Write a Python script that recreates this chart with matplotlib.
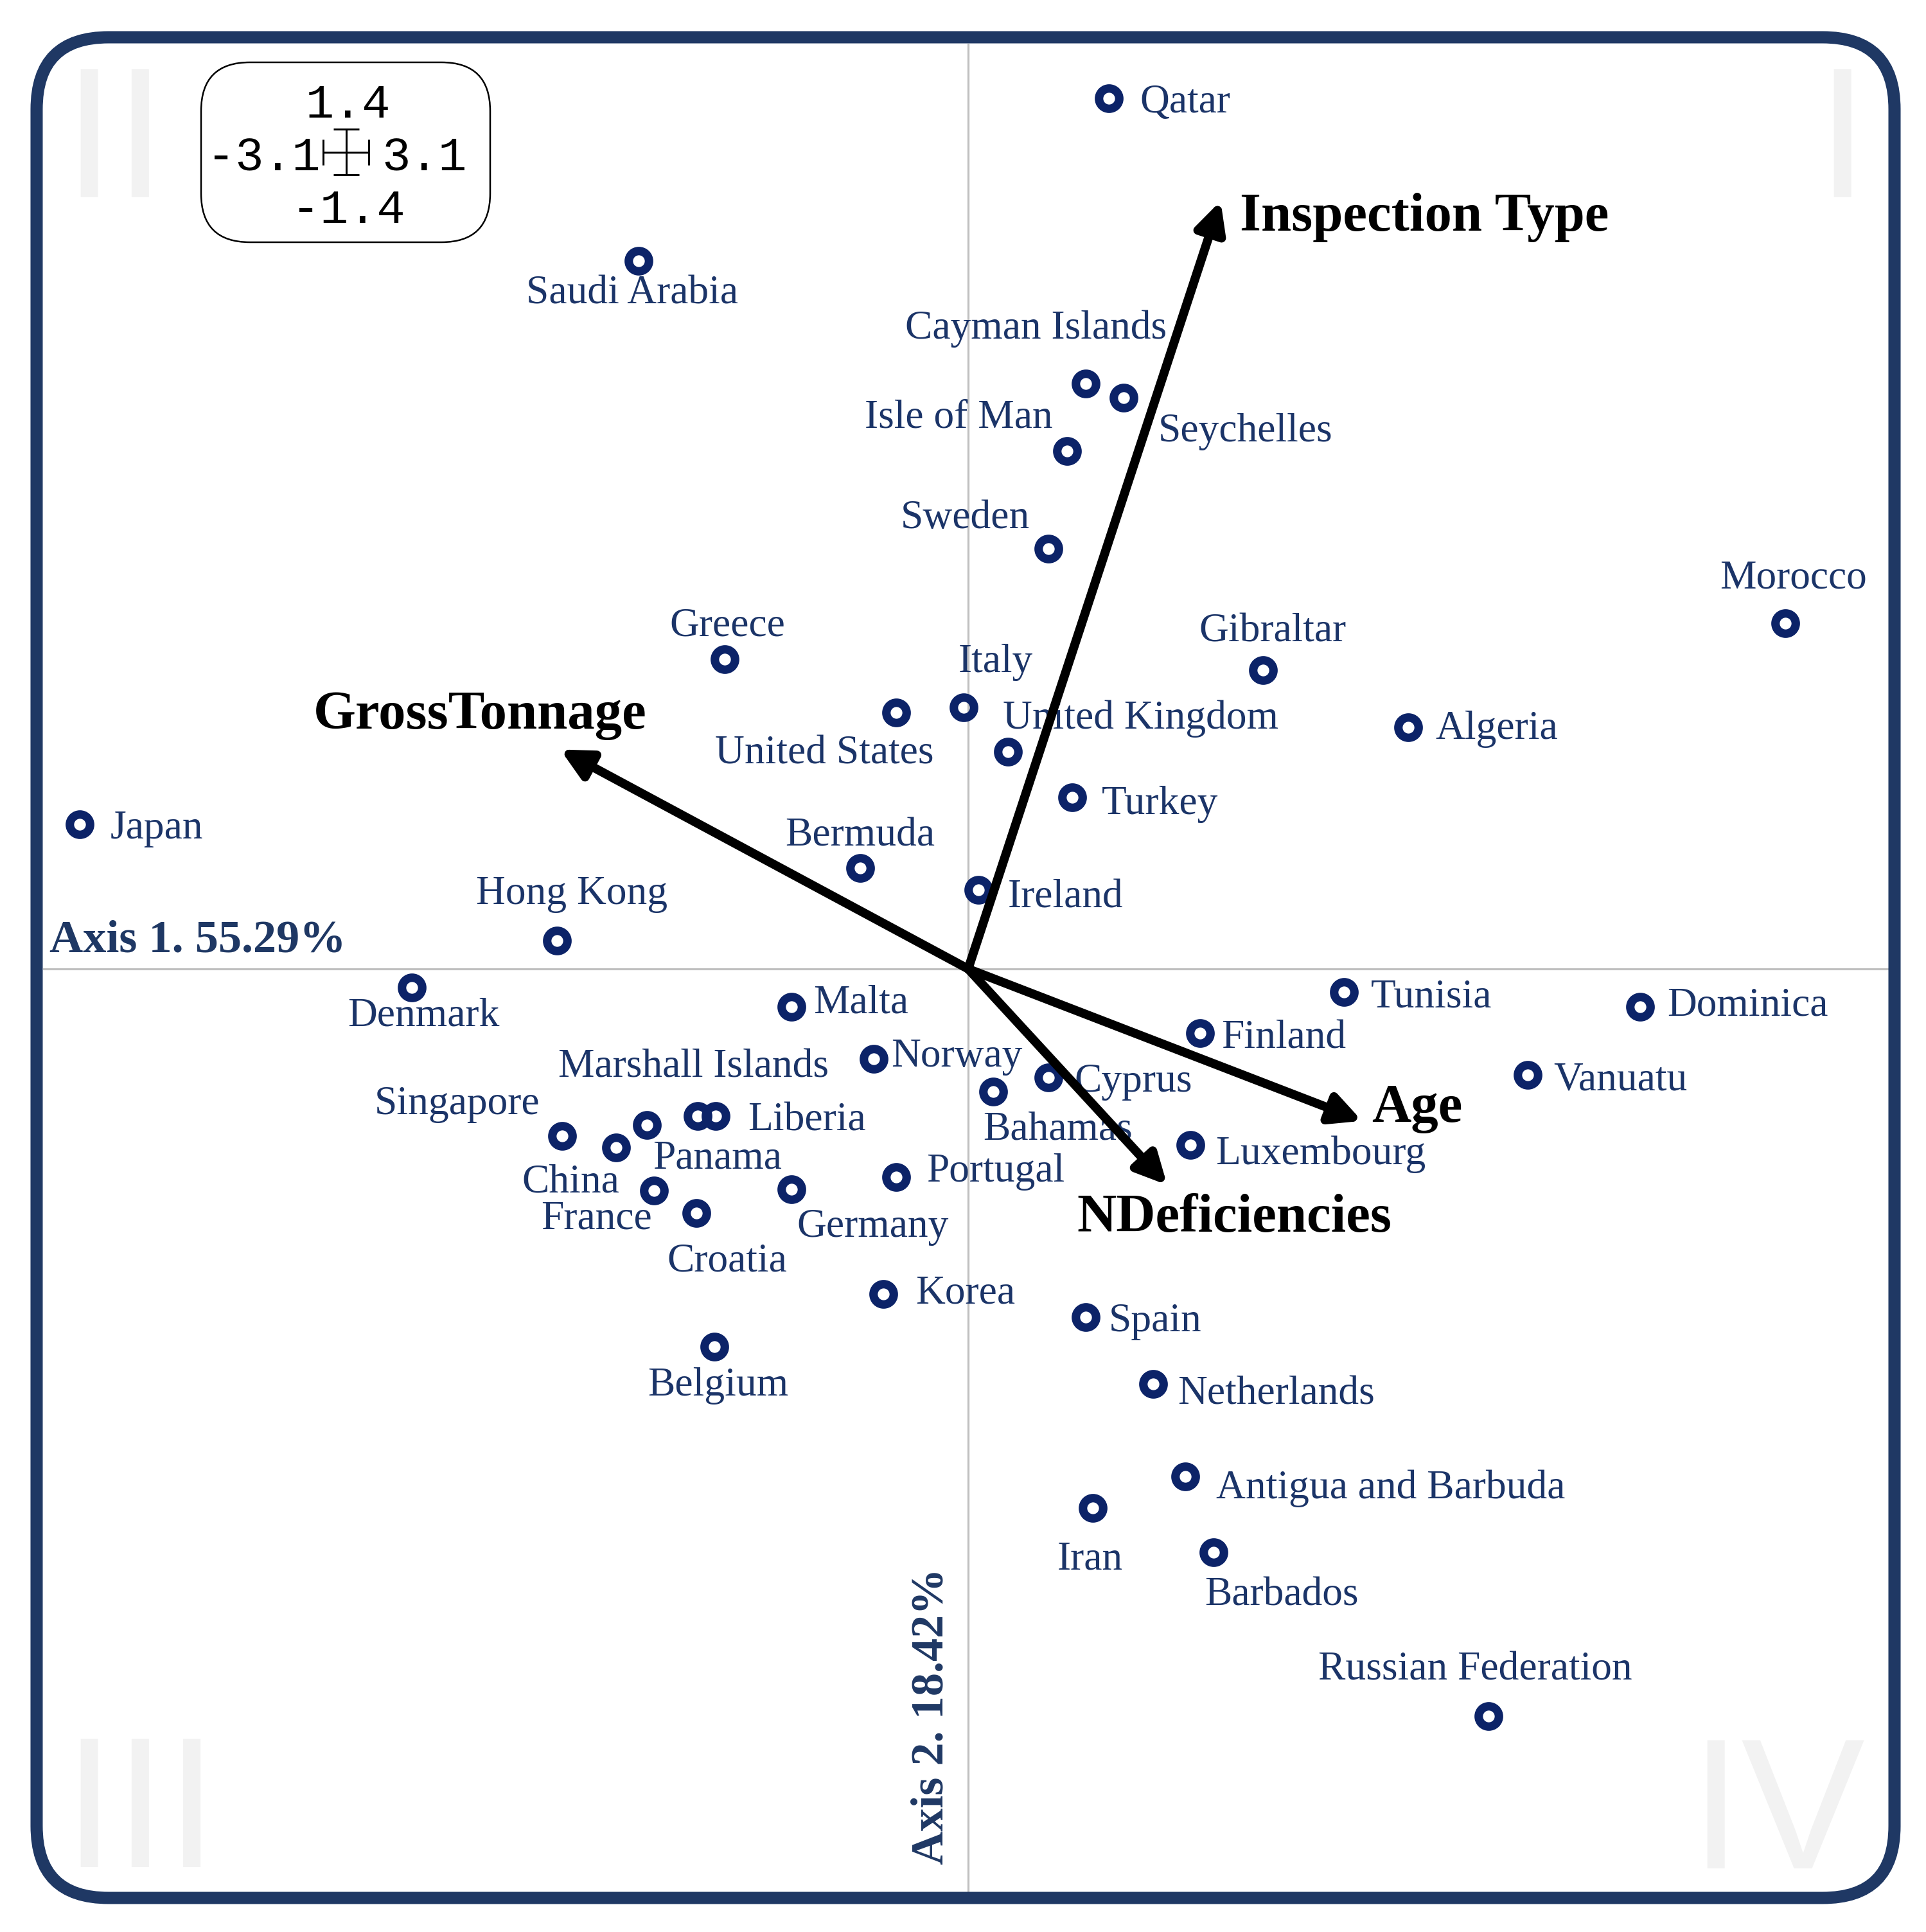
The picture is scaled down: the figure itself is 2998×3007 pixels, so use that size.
import matplotlib
matplotlib.use('Agg')
import matplotlib.pyplot as plt
from matplotlib.patches import FancyBboxPatch

# 画布尺寸（像素）
W, H, DPI = 2998, 3007, 100

# 国家坐标（第1、2主轴）
countries = ['Qatar', 'Saudi Arabia', 'Cayman Islands', 'Seychelles', 'Isle of Man',
             'Sweden', 'Morocco', 'Greece', 'Gibraltar', 'Italy', 'United States',
             'United Kingdom', 'Algeria', 'Turkey', 'Japan', 'Bermuda', 'Ireland',
             'Hong Kong', 'Denmark', 'Tunisia', 'Dominica', 'Malta', 'Finland',
             'Norway', 'Cyprus', 'Vanuatu', 'Bahamas', 'Luxembourg', 'Marshall Islands',
             'Liberia', 'Panama', 'Singapore', 'China', 'France', 'Croatia', 'Germany',
             'Portugal', 'Korea', 'Spain', 'Belgium', 'Netherlands',
             'Antigua and Barbuda', 'Iran', 'Barbados', 'Russian Federation']
axis1 = [0.472, -1.105, 0.394, 0.521, 0.332,
         0.270, 2.739, -0.816, 0.988, -0.015, -0.242,
         0.133, 1.475, 0.348, -2.977, -0.362, 0.034,
         -1.378, -1.865, 1.260, 2.252, -0.593, 0.777,
         -0.317, 0.270, 1.876, 0.084, 0.744, -0.907,
         -0.845, -1.076, -1.361, -1.180, -1.052, -0.911, -0.593,
         -0.242, -0.284, 0.394, -0.850, 0.620,
         0.728, 0.418, 0.823, 1.744]
axis2 = [1.317, 1.071, 0.886, 0.864, 0.784,
         0.636, 0.523, 0.469, 0.452, 0.396, 0.388,
         0.329, 0.366, 0.260, 0.219, 0.153, 0.120,
         0.043, -0.028, -0.035, -0.057, -0.057, -0.097,
         -0.136, -0.164, -0.160, -0.186, -0.266, -0.223,
         -0.223, -0.236, -0.253, -0.270, -0.335, -0.369, -0.333,
         -0.315, -0.492, -0.527, -0.572, -0.628,
         -0.768, -0.816, -0.883, -1.131]

# 变量箭头
variables = ['Inspection Type', 'GrossTonnage', 'Age', 'NDeficiencies']
var_axis1 = [0.846, -1.367, 1.320, 0.667]
var_axis2 = [1.162, 0.332, -0.230, -0.327]

x_lim = 3.1
y_lim = 1.4
axis_labels = ['Axis 1. 55.29%', 'Axis 2. 18.42%']

# 标签位置 (对齐, dx, dy) 像素，dy 向下为正
label_pos = {
    'Qatar': ('left', 48, 0), 'Saudi Arabia': ('center', -10, 44),
    'Cayman Islands': ('center', -77, -92), 'Seychelles': ('left', 54, 46),
    'Isle of Man': ('center', -169, -58), 'Sweden': ('center', -130, -54),
    'Morocco': ('center', 12, -77), 'Greece': ('center', 4, -58),
    'Gibraltar': ('center', 15, -67), 'Italy': ('center', 50, -77),
    'United States': ('center', -111, 58), 'United Kingdom': ('center', 207, -58),
    'Algeria': ('left', 42, -4), 'Turkey': ('left', 46, 4), 'Japan': ('left', 48, 0),
    'Bermuda': ('center', 0, -56), 'Ireland': ('left', 46, 6),
    'Hong Kong': ('center', 23, -79), 'Denmark': ('center', 19, 38),
    'Tunisia': ('left', 42, 2), 'Dominica': ('left', 42, -8), 'Malta': ('left', 35, -12),
    'Finland': ('left', 33, 2), 'Norway': ('left', 27, -10), 'Cyprus': ('left', 40, 0),
    'Vanuatu': ('left', 40, 2), 'Bahamas': ('center', 100, 52),
    'Luxembourg': ('left', 40, 8), 'Marshall Islands': ('center', -6, -83),
    'Liberia': ('left', 50, 0), 'Panama': ('center', 109, 46),
    'Singapore': ('center', -163, -56), 'China': ('center', -71, 48),
    'France': ('center', -90, 38), 'Croatia': ('center', 48, 69),
    'Germany': ('center', 127, 52), 'Portugal': ('left', 48, -15),
    'Korea': ('left', 50, -8), 'Spain': ('left', 36, 0), 'Belgium': ('center', 6, 54),
    'Netherlands': ('left', 38, 10), 'Antigua and Barbuda': ('left', 48, 12),
    'Iran': ('center', -4, 73), 'Barbados': ('center', 106, 60),
    'Russian Federation': ('center', -21, -79),
}
var_label_pos = {
    'Inspection Type': ('left', 30, 17), 'GrossTonnage': ('center', -125, -62),
    'Age': ('left', 15, -28), 'NDeficiencies': ('center', 105, 43),
}

NAVY = '#1f3864'
MARK = '#0c2368'
TEXT = '#1b3468'
SERIF = 'Liberation Serif'


def frac(x, y):
    # 像素(左上原点) -> 画布比例
    return x / W, 1 - y / H


def inch(x, y):
    return x / DPI, (H - y) / DPI


def draw_chart():
    fig = plt.figure(figsize=(W / DPI, H / DPI), dpi=DPI)
    fig.patch.set_facecolor('white')

    ax = fig.add_axes([67 / W, 59 / H, 2880 / W, 2880 / H])
    ax.set_xlim(-x_lim, x_lim)
    ax.set_ylim(-y_lim, y_lim)
    ax.axis('off')

    # 象限编号
    qkw = dict(fontsize=208, color='#f2f2f2', family='Liberation Sans',
               transform=fig.dpi_scale_trans, va='baseline', zorder=0)
    fig.text(*inch(98, 307), 'II', ha='left', **qkw)
    fig.text(*inch(2908, 307), 'I', ha='right', **qkw)
    fig.text(*inch(98, 2906), 'III', ha='left', **qkw)
    fig.text(*inch(2903, 2908), 'IV', ha='right', **qkw)

    # 坐标轴线
    ax.axhline(0, color='#c0c0c0', lw=2.3, zorder=1)
    ax.axvline(0, color='#c0c0c0', lw=2.3, zorder=1)

    # 国家点和标签
    ax.plot(axis1, axis2, 'o', ms=22.7, mfc='none', mec=MARK, mew=9.5, zorder=3)
    for name, x, y in zip(countries, axis1, axis2):
        ha, dx, dy = label_pos[name]
        ax.annotate(name, (x, y), xytext=(dx, -dy), textcoords='offset pixels',
                    ha=ha, va='center_baseline', fontsize=45.7, color=TEXT,
                    family=SERIF, zorder=2)

    # 变量箭头
    for name, x, y in zip(variables, var_axis1, var_axis2):
        ax.annotate('', xy=(x, y), xytext=(0, 0),
                    arrowprops=dict(arrowstyle='-|>,head_length=0.4,head_width=0.2',
                                    mutation_scale=70, lw=10, color='black',
                                    shrinkA=0, shrinkB=0), zorder=4)
        ha, dx, dy = var_label_pos[name]
        ax.annotate(name, (x, y), xytext=(dx, -dy), textcoords='offset pixels',
                    ha=ha, va='center_baseline', fontsize=61, fontweight='bold',
                    color='black', family=SERIF, zorder=5)

    # 轴标题
    fig.text(*inch(77, 1482), axis_labels[0], transform=fig.dpi_scale_trans,
             ha='left', va='baseline', fontsize=52, fontweight='bold',
             color=NAVY, family=SERIF)
    fig.text(*inch(1467, 2902), axis_labels[1], transform=fig.dpi_scale_trans,
             ha='left', va='baseline', rotation=90, rotation_mode='anchor',
             fontsize=52, fontweight='bold', color=NAVY, family=SERIF)

    # 外框
    x0, y0 = inch(57, 2954)
    fig.patches.append(FancyBboxPatch(
        (x0, y0), (2949 - 57) / DPI, (2954 - 58) / DPI,
        boxstyle='round,pad=0,rounding_size=1.12', transform=fig.dpi_scale_trans,
        fc='none', ec=NAVY, lw=13.7, zorder=6))

    # 比例图例
    x0, y0 = inch(313, 377)
    fig.patches.append(FancyBboxPatch(
        (x0, y0), 450 / DPI, 280 / DPI,
        boxstyle='round,pad=0,rounding_size=0.76', transform=fig.dpi_scale_trans,
        fc='white', ec='black', lw=1.8, zorder=6))
    kkw = dict(transform=fig.dpi_scale_trans, fontsize=53, family='Liberation Mono',
               color='black', va='baseline', zorder=7)
    fig.text(*inch(542, 183), f'{y_lim}', ha='center', **kkw)
    fig.text(*inch(542, 347), f'-{y_lim}', ha='center', **kkw)
    fig.text(*inch(498, 265), f'-{x_lim}', ha='right', **kkw)
    fig.text(*inch(594, 265), f'{x_lim}', ha='left', **kkw)

    l, b = frac(503, 272)
    kax = fig.add_axes([l, b, 71 / W, 71 / H], zorder=8)
    kax.set_xlim(-1, 1)
    kax.set_ylim(-1, 1)
    kax.axis('off')
    kax.errorbar([0], [0], xerr=1, yerr=1, fmt='none', ecolor='black',
                 elinewidth=2.2, capsize=14.4, capthick=2.2, clip_on=False)

    fig.savefig('out.png', dpi=DPI, facecolor='white')


if __name__ == "__main__":
    draw_chart()
